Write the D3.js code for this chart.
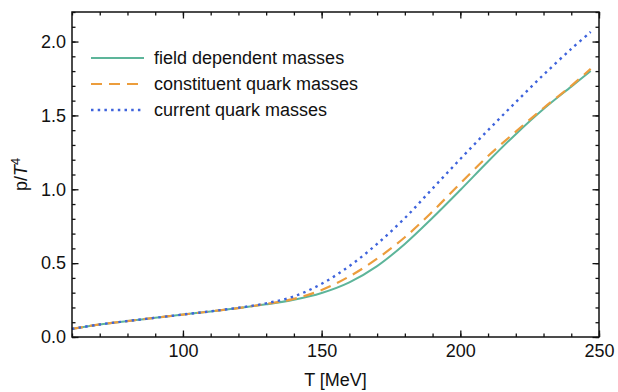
<!DOCTYPE html>
<html>
<head>
<meta charset="utf-8">
<script src="https://cdn.jsdelivr.net/npm/d3@7"></script>
<style>
  body { margin: 0; background: #fff; }
  svg text { font-family: "Liberation Sans", Arial, Helvetica, sans-serif; }
</style>
</head>
<body>
<div id="chart"></div>
<script>
const temps = [60, 70, 80, 90, 100, 110, 120, 130, 140, 150, 160, 170, 180, 190, 200, 210, 220, 230, 240, 247];

// p/T^4 for each mass treatment
const fieldDependent = [0.055, 0.085, 0.108, 0.130, 0.152, 0.173, 0.196, 0.221, 0.252, 0.298, 0.370, 0.480, 0.630, 0.807, 0.995, 1.188, 1.373, 1.543, 1.695, 1.800];
const constituent    = [0.055, 0.085, 0.108, 0.130, 0.152, 0.173, 0.196, 0.224, 0.258, 0.318, 0.410, 0.530, 0.675, 0.850, 1.040, 1.225, 1.390, 1.550, 1.700, 1.815];
const current        = [0.055, 0.085, 0.108, 0.130, 0.152, 0.174, 0.198, 0.228, 0.275, 0.360, 0.480, 0.630, 0.805, 1.005, 1.205, 1.400, 1.590, 1.775, 1.950, 2.065];

const xMajor = [100, 150, 200, 250];
const xMinor = d3.range(60, 251, 10);
const yMajor = [0, 0.5, 1.0, 1.5, 2.0];
const yMinor = d3.range(0, 2.21, 0.1);

const series = [
  { label: 'field dependent masses', values: fieldDependent, color: '#5db59a', dash: null, width: 2 },
  { label: 'constituent quark masses', values: constituent, color: '#ec9d3c', dash: '11,7', width: 2.2 },
  { label: 'current quark masses', values: current, color: '#3e63dc', dash: '2.5,4.2', width: 2.4 }
];

const width = 618, height = 392;
const margin = { top: 12, right: 19, bottom: 55, left: 72 };
const innerW = width - margin.left - margin.right;
const innerH = height - margin.top - margin.bottom;

const svg = d3.select('#chart').append('svg')
  .attr('width', width)
  .attr('height', height);

const g = svg.append('g')
  .attr('transform', `translate(${margin.left},${margin.top})`);

const x = d3.scaleLinear().domain([60, 250]).range([0, innerW]);
const y = d3.scaleLinear().domain([0, 2.2]).range([innerH, 0]);

const fontSize = 18;
const axisColor = '#111';

function styleAxis(sel) {
  sel.select('.domain').remove();
  sel.selectAll('.tick line').attr('stroke', axisColor).attr('stroke-width', 1.3);
  sel.selectAll('.tick text').attr('font-size', fontSize).attr('fill', '#111')
    .attr('font-family', '"Liberation Sans", Arial, sans-serif');
}

// bottom
g.append('g').attr('transform', `translate(0,${innerH})`)
  .call(d3.axisBottom(x).tickValues(xMinor).tickSize(-3.5).tickFormat(''))
  .call(styleAxis);
g.append('g').attr('transform', `translate(0,${innerH})`)
  .call(d3.axisBottom(x).tickValues(xMajor).tickSize(-6.5).tickPadding(7).tickFormat(d3.format('d')))
  .call(styleAxis);
// top
g.append('g')
  .call(d3.axisTop(x).tickValues(xMinor).tickSize(-3.5).tickFormat(''))
  .call(styleAxis);
g.append('g')
  .call(d3.axisTop(x).tickValues(xMajor).tickSize(-6.5).tickFormat(''))
  .call(styleAxis);
// left
g.append('g')
  .call(d3.axisLeft(y).tickValues(yMinor).tickSize(-3.5).tickFormat(''))
  .call(styleAxis);
g.append('g')
  .call(d3.axisLeft(y).tickValues(yMajor).tickSize(-6.5).tickPadding(6).tickFormat(d3.format('.1f')))
  .call(styleAxis);
// right
g.append('g').attr('transform', `translate(${innerW},0)`)
  .call(d3.axisRight(y).tickValues(yMinor).tickSize(-3.5).tickFormat(''))
  .call(styleAxis);
g.append('g').attr('transform', `translate(${innerW},0)`)
  .call(d3.axisRight(y).tickValues(yMajor).tickSize(-6.5).tickFormat(''))
  .call(styleAxis);

// curves
const line = d3.line()
  .x((d, i) => x(temps[i]))
  .y(d => y(d))
  .curve(d3.curveCatmullRom.alpha(0.5));

g.selectAll('path.curve')
  .data(series)
  .join('path')
  .attr('class', 'curve')
  .attr('d', d => line(d.values))
  .attr('fill', 'none')
  .attr('stroke', d => d.color)
  .attr('stroke-width', d => d.width)
  .attr('stroke-dasharray', d => d.dash);

// frame
g.append('rect')
  .attr('x', 0).attr('y', 0)
  .attr('width', innerW).attr('height', innerH)
  .attr('fill', 'none')
  .attr('stroke', axisColor)
  .attr('stroke-width', 1.5);

// axis labels
svg.append('text')
  .attr('x', margin.left + innerW / 2)
  .attr('y', 386)
  .attr('text-anchor', 'middle')
  .attr('font-size', fontSize)
  .attr('fill', '#111')
  .text('T [MeV]');

const yLabel = svg.append('text')
  .attr('transform', `translate(27,${margin.top + innerH / 2}) rotate(-90)`)
  .attr('text-anchor', 'middle')
  .attr('font-size', fontSize)
  .attr('fill', '#111');
yLabel.append('tspan').text('p/');
yLabel.append('tspan').attr('font-style', 'italic').text('T');
yLabel.append('tspan').attr('font-size', fontSize * 0.72).attr('dy', -7).text('4');

// legend
const legend = svg.append('g').attr('transform', 'translate(91,58)');
const row = legend.selectAll('g')
  .data(series)
  .join('g')
  .attr('transform', (d, i) => `translate(0,${i * 26})`);
row.append('line')
  .attr('x1', 0).attr('x2', 53)
  .attr('y1', 0).attr('y2', 0)
  .attr('stroke', d => d.color)
  .attr('stroke-width', d => d.width)
  .attr('stroke-dasharray', d => d.dash);
row.append('text')
  .attr('x', 63)
  .attr('y', 6)
  .attr('font-size', fontSize)
  .attr('fill', '#111')
  .text(d => d.label);
</script>
</body>
</html>
